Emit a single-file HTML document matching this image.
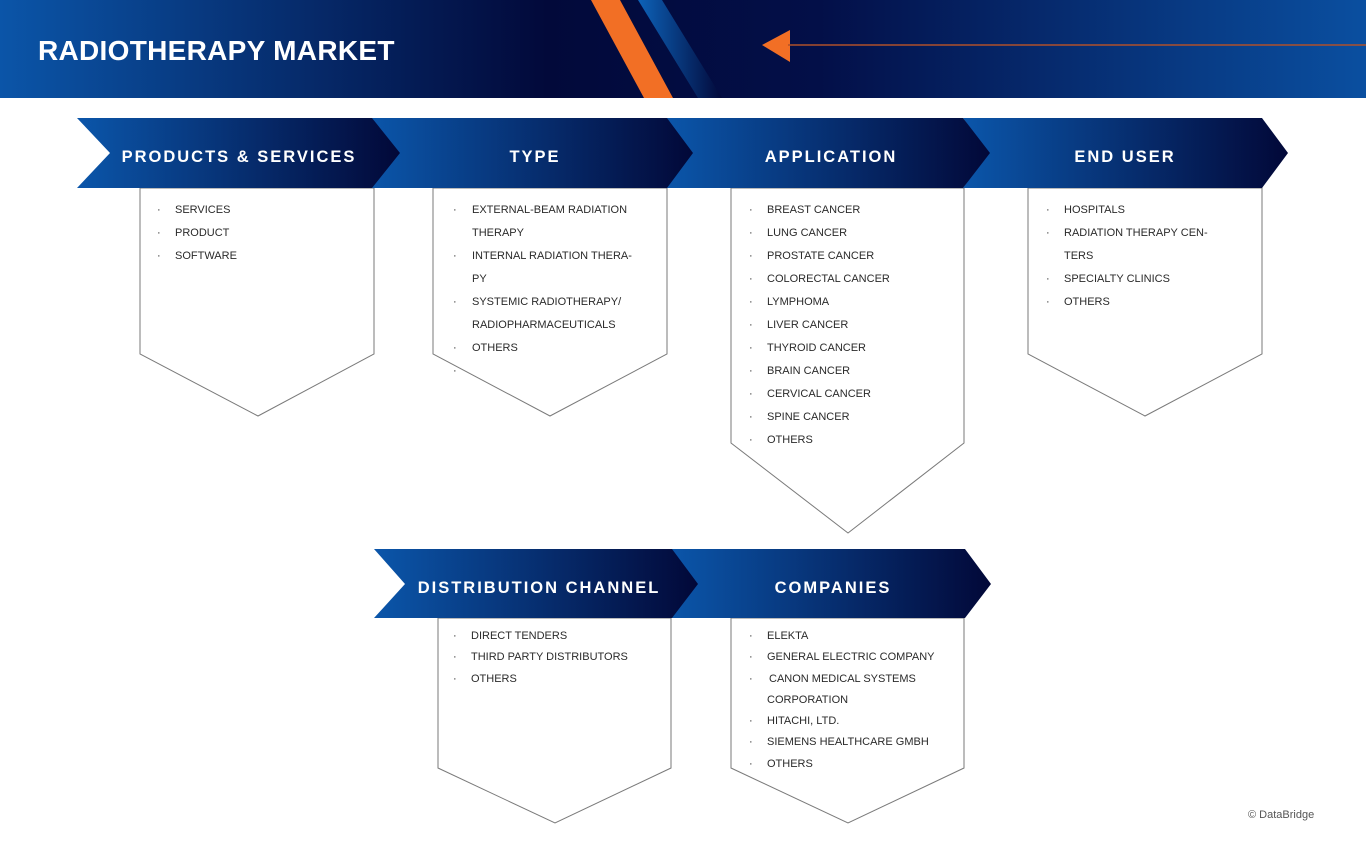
<!DOCTYPE html>
<html><head><meta charset="utf-8"><style>
html,body{margin:0;padding:0;background:#fff;}
svg{display:block}
text{font-family:"Liberation Sans",sans-serif}
.h{font-weight:bold;fill:#fff;font-size:16.5px;letter-spacing:2px}
.t{font-size:11px;fill:#2a2a2a}
.box{fill:#fff;stroke:#7a7a7a;stroke-width:1}
</style></head><body>
<svg width="1366" height="848" viewBox="0 0 1366 848" xmlns="http://www.w3.org/2000/svg">
<defs>
<linearGradient id="hd" x1="0" x2="1" y1="0" y2="0">
<stop offset="0" stop-color="#0b55a8"/><stop offset="0.4" stop-color="#02093a"/><stop offset="0.6" stop-color="#030f48"/><stop offset="1" stop-color="#0a4fa0"/>
</linearGradient>
<linearGradient id="cg" x1="0" x2="1" y1="0" y2="0">
<stop offset="0" stop-color="#0b56aa"/><stop offset="1" stop-color="#020838"/>
</linearGradient>
<linearGradient id="bs" x1="0" x2="1" y1="0" y2="0">
<stop offset="0" stop-color="#0d62b8"/><stop offset="1" stop-color="#02093a"/>
</linearGradient>
</defs>
<rect x="0" y="0" width="1366" height="98" fill="url(#hd)"/>
<polygon points="638,0 662,0 722,98 698,98" fill="url(#bs)"/>
<polygon points="591,0 620,0 673,98 644,98" fill="#f26f25"/>
<polygon points="762,45 790,30 790,62" fill="#f26f25"/>
<line x1="788" y1="45" x2="1366" y2="45" stroke="#b0502a" stroke-width="1.5"/>
<text x="38" y="60" font-size="28" font-weight="bold" fill="#fff" letter-spacing="0.3" style="font-family:'Liberation Sans',sans-serif">RADIOTHERAPY MARKET</text>

<!-- boxes -->
<polygon class="box" points="140,188 374,188 374,354 258,416 140,354"/>
<polygon class="box" points="433,188 667,188 667,354 550,416 433,354"/>
<polygon class="box" points="731,188 964,188 964,443 848,533 731,443"/>
<polygon class="box" points="1028,188 1262,188 1262,354 1145,416 1028,354"/>
<polygon class="box" points="438,618 671,618 671,768 555,823 438,768"/>
<polygon class="box" points="731,618 964,618 964,768 848,823 731,768"/>

<!-- chevrons (drawn right to left so tips overlap) -->
<polygon points="963,118 1262,118 1288,153 1262,188 963,188 988,153" fill="url(#cg)"/>
<polygon points="666,118 963,118 990,153 963,188 666,188 691,153" fill="url(#cg)"/>
<polygon points="370,118 667,118 693,153 667,188 370,188 398,153" fill="url(#cg)"/>
<polygon points="77,118 372,118 400,153 372,188 77,188 110,153" fill="url(#cg)"/>
<polygon points="670,549 965,549 991,584 965,618 670,618 696,584" fill="url(#cg)"/>
<polygon points="374,549 672,549 698,584 672,618 374,618 405,584" fill="url(#cg)"/>

<text class="h" x="239" y="162" text-anchor="middle">PRODUCTS &amp; SERVICES</text>
<text class="h" x="535" y="162" text-anchor="middle">TYPE</text>
<text class="h" x="831" y="162" text-anchor="middle">APPLICATION</text>
<text class="h" x="1125" y="162" text-anchor="middle">END USER</text>
<text class="h" x="539" y="593" text-anchor="middle">DISTRIBUTION CHANNEL</text>
<text class="h" x="833" y="593" text-anchor="middle">COMPANIES</text>

<g class="t">
<text x="157" y="213">·</text><text x="175" y="213">SERVICES</text>
<text x="157" y="236">·</text><text x="175" y="236">PRODUCT</text>
<text x="157" y="259">·</text><text x="175" y="259">SOFTWARE</text>

<text x="453" y="213">·</text><text x="472" y="213">EXTERNAL-BEAM RADIATION</text>
<text x="472" y="236">THERAPY</text>
<text x="453" y="259">·</text><text x="472" y="259">INTERNAL RADIATION THERA-</text>
<text x="472" y="282">PY</text>
<text x="453" y="305">·</text><text x="472" y="305">SYSTEMIC RADIOTHERAPY/</text>
<text x="472" y="328">RADIOPHARMACEUTICALS</text>
<text x="453" y="351">·</text><text x="472" y="351">OTHERS</text>
<text x="453" y="374">·</text>

<text x="749" y="213">·</text><text x="767" y="213">BREAST CANCER</text>
<text x="749" y="236">·</text><text x="767" y="236">LUNG CANCER</text>
<text x="749" y="259">·</text><text x="767" y="259">PROSTATE CANCER</text>
<text x="749" y="282">·</text><text x="767" y="282">COLORECTAL CANCER</text>
<text x="749" y="305">·</text><text x="767" y="305">LYMPHOMA</text>
<text x="749" y="328">·</text><text x="767" y="328">LIVER CANCER</text>
<text x="749" y="351">·</text><text x="767" y="351">THYROID CANCER</text>
<text x="749" y="374">·</text><text x="767" y="374">BRAIN CANCER</text>
<text x="749" y="397">·</text><text x="767" y="397">CERVICAL CANCER</text>
<text x="749" y="420">·</text><text x="767" y="420">SPINE CANCER</text>
<text x="749" y="443">·</text><text x="767" y="443">OTHERS</text>

<text x="1046" y="213">·</text><text x="1064" y="213">HOSPITALS</text>
<text x="1046" y="236">·</text><text x="1064" y="236">RADIATION THERAPY CEN-</text>
<text x="1064" y="259">TERS</text>
<text x="1046" y="282">·</text><text x="1064" y="282">SPECIALTY CLINICS</text>
<text x="1046" y="305">·</text><text x="1064" y="305">OTHERS</text>

<text x="453" y="639">·</text><text x="471" y="639">DIRECT TENDERS</text>
<text x="453" y="660">·</text><text x="471" y="660">THIRD PARTY DISTRIBUTORS</text>
<text x="453" y="682">·</text><text x="471" y="682">OTHERS</text>

<text x="749" y="639">·</text><text x="767" y="639">ELEKTA</text>
<text x="749" y="660">·</text><text x="767" y="660">GENERAL ELECTRIC COMPANY</text>
<text x="749" y="682">·</text><text x="769" y="682">CANON MEDICAL SYSTEMS</text>
<text x="767" y="703">CORPORATION</text>
<text x="749" y="724">·</text><text x="767" y="724">HITACHI, LTD.</text>
<text x="749" y="745">·</text><text x="767" y="745">SIEMENS HEALTHCARE GMBH</text>
<text x="749" y="767">·</text><text x="767" y="767">OTHERS</text>
</g>
<text x="1248" y="818" font-size="11" fill="#555">© DataBridge</text>
</svg>
</body></html>
